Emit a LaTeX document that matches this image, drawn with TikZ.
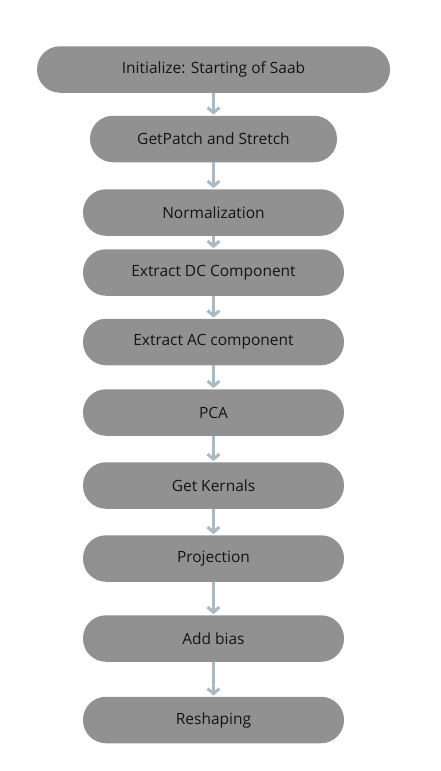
\documentclass[tikz,border=0pt]{standalone}
\usepackage{fontspec}
\setmainfont{Open Sans}
\usetikzlibrary{arrows.meta}
\definecolor{boxgray}{RGB}{145,145,145}
\definecolor{arrowblue}{RGB}{170,186,197}
\definecolor{txt}{RGB}{20,20,20}
\tikzset{
  stepbox/.style={draw=none, fill=boxgray, rounded corners=23pt, minimum height=46.5pt,
    inner sep=0pt, text=txt, font=\fontsize{15.5pt}{18pt}\selectfont},
  flowarrow/.style={draw=arrowblue, line width=3pt,
    -{Straight Barb[length=5pt,width=12pt,line width=3pt]}, shorten >=1pt}
}
\begin{document}
\begin{tikzpicture}[x=1pt,y=-1pt]
\useasboundingbox (0,0) rectangle (441,771);
\node[stepbox, minimum width=353pt] (n1) at (213.5,69.5) {Initialize: Starting of Saab};
\node[stepbox, minimum width=247pt] (n2) at (213.5,139) {GetPatch and Stretch};
\node[stepbox, minimum width=261pt] (n3) at (213.5,212.5) {Normalization};
\node[stepbox, minimum width=261pt] (n4) at (213.5,272.5) {Extract DC Component};
\node[stepbox, minimum width=261pt] (n5) at (213.5,342) {Extract AC component};
\node[stepbox, minimum width=261pt] (n6) at (213.5,412.5) {PCA};
\node[stepbox, minimum width=261pt] (n7) at (213.5,485.5) {Get Kernals};
\node[stepbox, minimum width=261pt] (n8) at (213.5,558.5) {Projection};
\node[stepbox, minimum width=261pt] (n9) at (213.5,638.5) {Add bias};
\node[stepbox, minimum width=261pt] (n10) at (213.5,720) {Reshaping};
\foreach \a/\b in {n1/n2,n2/n3,n3/n4,n4/n5,n5/n6,n6/n7,n7/n8,n8/n9,n9/n10}
  \draw[flowarrow] (\a.south) -- (\b.north);
\end{tikzpicture}
\end{document}
